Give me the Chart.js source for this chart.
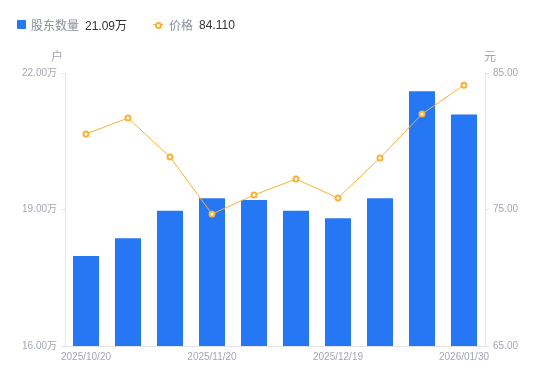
<!DOCTYPE html>
<html><head><meta charset="utf-8">
<script src="https://cdn.jsdelivr.net/npm/chart.js@4/dist/chart.umd.min.js"></script>
<style>
html,body{margin:0;padding:0;background:#fff;}
#wrap{position:relative;width:550px;height:381px;}
#legend{position:absolute;left:17px;top:16px;display:flex;align-items:center;font-family:"Liberation Sans","Noto Sans CJK SC",sans-serif;font-size:12px;}
.item{display:flex;align-items:center;margin-right:26px;}
.sq{width:9px;height:9px;background:#2677f3;border-radius:1px;margin-right:5px;}
.ln{position:relative;width:10px;height:10px;margin-right:6px;}
.ln:before{content:"";position:absolute;left:0;right:0;top:4.5px;height:1px;background:#f9b233;}
.ln:after{content:"";position:absolute;left:2px;top:2px;width:3px;height:3px;border:2px solid #f9b233;border-radius:50%;background:#fff;}
.nm{color:#8a8f99;margin-right:6px;}
.vl{color:#333;}
</style></head>
<body><div id="wrap"><div id="legend"></div><canvas id="c" width="550" height="381"></canvas></div>
<script>
const categories = ["2025/10/20","2025/10/31","2025/11/10","2025/11/20","2025/11/28","2025/12/10","2025/12/19","2025/12/31","2026/01/20","2026/01/30"];
const holders = [17.98, 18.37, 18.97, 19.25, 19.21, 18.97, 18.81, 19.25, 21.60, 21.09];
const prices = [80.53, 81.70, 78.85, 74.67, 76.06, 77.23, 75.84, 78.77, 82.00, 84.11];
const shownTickIdx = [0, 3, 6, 9];
const leftTicks = [16, 19, 22];
const rightTicks = [65, 75, 85];

const BLUE = '#2677f3', ORANGE = '#f9b233', GREY = '#a3a7b3', LINEC = '#e3e5ea';
const FONT = '"Liberation Sans","Noto Sans CJK SC",sans-serif';

document.getElementById('legend').innerHTML =
  '<div class="item"><span class="sq"></span><span class="nm">股东数量</span><span class="vl">' + holders[holders.length-1].toFixed(2) + '万</span></div>' +
  '<div class="item"><span class="ln"></span><span class="nm">价格</span><span class="vl">' + prices[prices.length-1].toFixed(3) + '</span></div>';

const unitTitles = {
  id: 'unitTitles',
  afterDraw(chart) {
    const ctx = chart.ctx, a = chart.chartArea;
    ctx.save();
    ctx.font = '12px ' + FONT;
    ctx.fillStyle = GREY;
    ctx.textAlign = 'center';
    ctx.textBaseline = 'middle';
    ctx.fillText('户', a.left - 8, a.top - 15);
    ctx.fillText('元', a.right + 5, a.top - 15);
    ctx.restore();
  }
};

new Chart(document.getElementById('c'), {
  data: {
    labels: categories,
    datasets: [
      { type: 'line', label: '价格', data: prices, yAxisID: 'yR', borderColor: ORANGE, borderWidth: 1,
        pointRadius: 2.5, pointBorderWidth: 2, pointBackgroundColor: '#fff', pointBorderColor: ORANGE,
        tension: 0, order: 0 },
      { type: 'bar', label: '股东数量', data: holders, yAxisID: 'yL', backgroundColor: BLUE,
        categoryPercentage: 0.62, barPercentage: 1, order: 1 }
    ]
  },
  options: {
    responsive: false, animation: false,
    layout: { padding: { top: 73, left: 0, right: 0, bottom: 0 } },
    plugins: { legend: { display: false }, tooltip: { enabled: false } },
    scales: {
      x: {
        grid: { display: false, drawTicks: false },
        border: { display: true, color: LINEC },
        afterFit(s) { s.height = 35; },
        ticks: { autoSkip: false, maxRotation: 0, padding: 5, color: GREY, font: { size: 10, family: FONT },
          callback(v, i) { return shownTickIdx.includes(i) ? categories[i] : ''; } }
      },
      yL: {
        position: 'left', min: 16, max: 22,
        afterFit(s) { s.width = 65; },
        afterBuildTicks(s) { s.ticks = leftTicks.map(v => ({ value: v })); },
        grid: { drawOnChartArea: false, drawTicks: true, tickLength: 4, color: LINEC },
        border: { color: LINEC },
        ticks: { padding: 4, color: GREY, font: { size: 10, family: FONT }, callback: v => v.toFixed(2) + '万' }
      },
      yR: {
        position: 'right', min: 65, max: 85,
        afterFit(s) { s.width = 65; },
        afterBuildTicks(s) { s.ticks = rightTicks.map(v => ({ value: v })); },
        grid: { drawOnChartArea: false, drawTicks: true, tickLength: 4, color: LINEC },
        border: { color: LINEC },
        ticks: { padding: 4, color: GREY, font: { size: 10, family: FONT }, callback: v => v.toFixed(2) }
      }
    }
  },
  plugins: [unitTitles]
});
</script></body></html>
